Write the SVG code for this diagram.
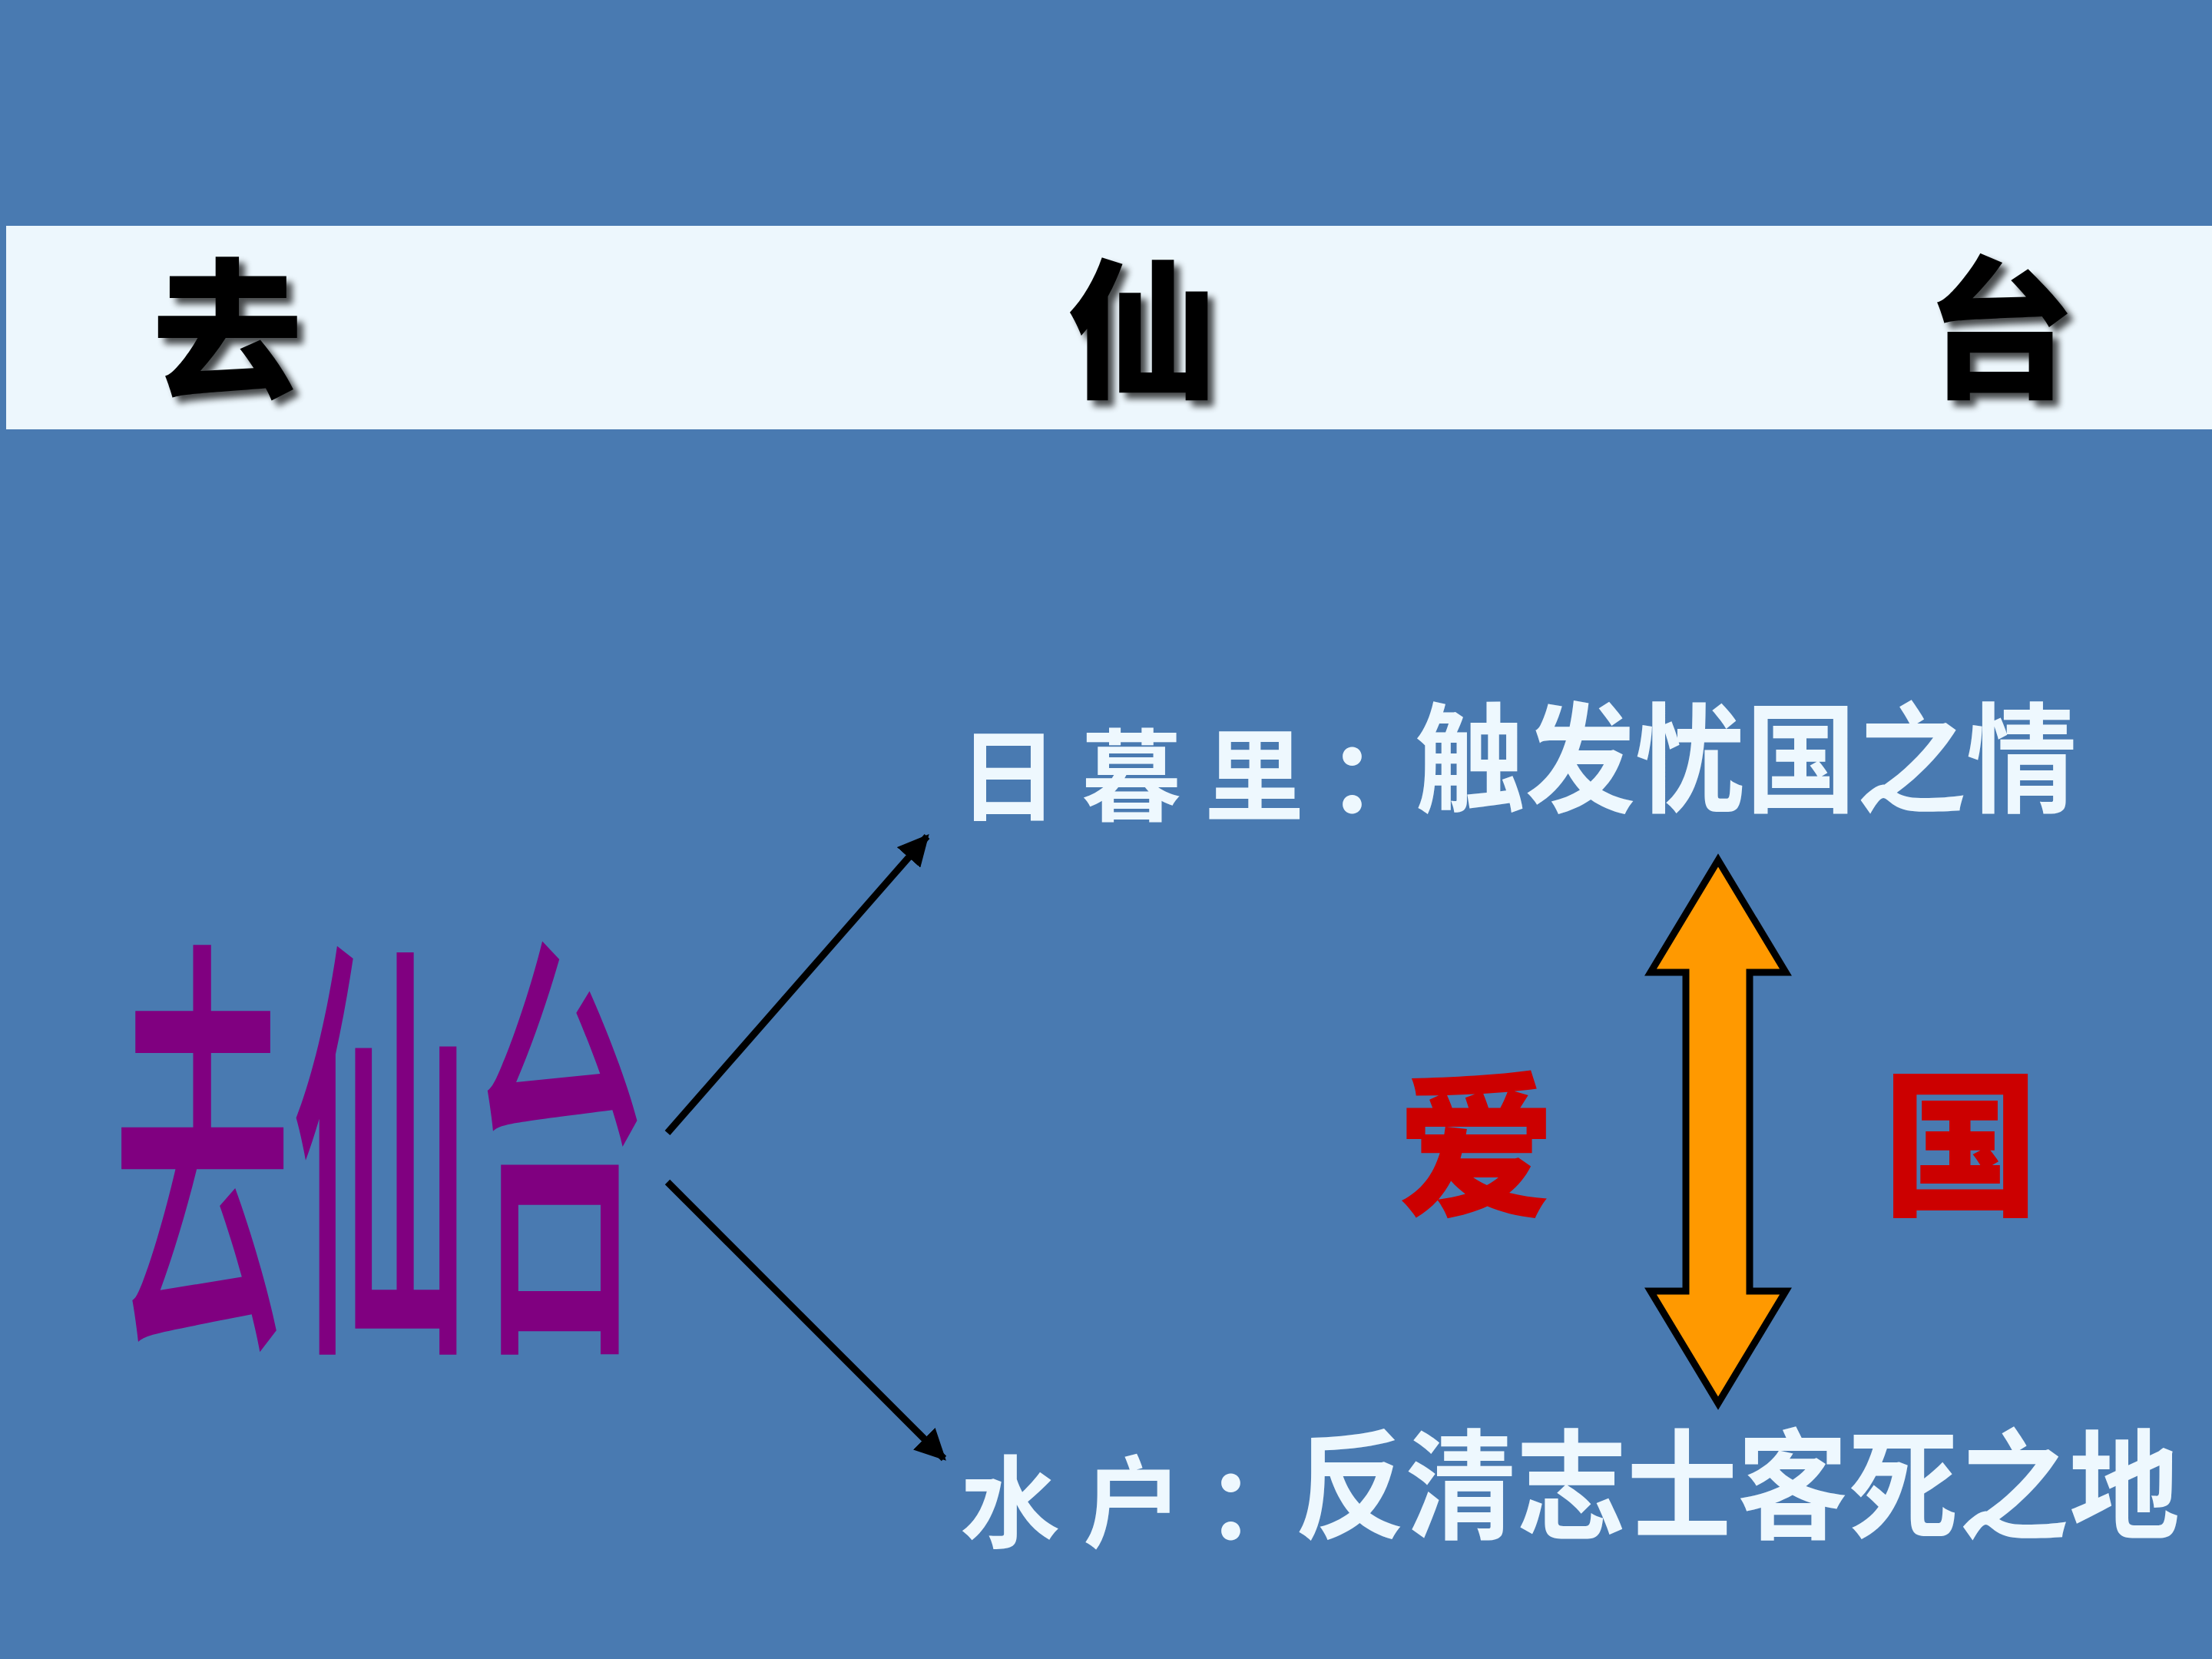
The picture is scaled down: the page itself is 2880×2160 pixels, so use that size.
<svg xmlns="http://www.w3.org/2000/svg" width="2880" height="2160" viewBox="0 0 2880 2160">
<style>
.cjk{font-family:"Noto Sans CJK SC","Noto Sans CJK JP",sans-serif}
.title{font-size:196px;font-weight:900;fill:#000}
.lbl{fill:#EEF8FE;font-weight:700}
.red{fill:#CC0000;font-weight:900;font-size:205px}
.conn{stroke:#000;stroke-width:9;fill:none}
</style>
<defs>
<filter id="sh" x="-20%" y="-20%" width="140%" height="140%">
<feGaussianBlur in="SourceAlpha" stdDeviation="4"/>
<feOffset dx="8" dy="8" result="b"/>
<feComponentTransfer><feFuncA type="linear" slope="0.7"/></feComponentTransfer>
<feMerge><feMergeNode/><feMergeNode in="SourceGraphic"/></feMerge>
</filter>
<marker id="ah" viewBox="0 0 10 10" refX="9" refY="5" markerWidth="4.5" markerHeight="4.5" orient="auto" markerUnits="strokeWidth">
<path d="M0,0 L10,5 L0,10 Z" fill="#000"/>
</marker>
</defs>
<rect width="2880" height="2160" fill="#497AB1"/>
<g id="banner">
<rect x="8" y="294" width="2872" height="265" fill="#EDF7FD"/>
<g class="cjk title" filter="url(#sh)" text-anchor="middle">
<text x="296" y="502">去</text>
<text x="1488" y="502">仙</text>
<text x="2604" y="502">台</text>
</g>
</g>
<g id="main">
<text class="cjk" transform="scale(0.405,1)" x="1224.7" y="1716" text-anchor="middle" font-size="575" font-weight="500" fill="#800080">去仙台</text>
</g>
<g id="connectors">
<line class="conn" x1="869" y1="1475" x2="1207" y2="1089" marker-end="url(#ah)"/>
<line class="conn" x1="869" y1="1539" x2="1229" y2="1899" marker-end="url(#ah)"/>
</g>
<g id="top-label">
<text class="cjk lbl" x="1248" y="1058" font-size="130" letter-spacing="30">日暮里：</text>
<text class="cjk lbl" x="1842" y="1045" font-size="155" textLength="862" lengthAdjust="spacingAndGlyphs">触发忧国之情</text>
</g>
<g id="bottom-label">
<text class="cjk lbl" x="1250" y="2004" font-size="130" letter-spacing="30">水户：</text>
<text class="cjk lbl" x="1686" y="1991" font-size="155" textLength="1152" lengthAdjust="spacingAndGlyphs">反清志士客死之地</text>
</g>
<g id="double-arrow">
<path d="M2237,1120 L2325,1266 L2278,1266 L2278,1681 L2325,1681 L2237,1827 L2149,1681 L2195,1681 L2195,1266 L2149,1266 Z" fill="#FF9900" stroke="#000" stroke-width="9" stroke-linejoin="miter"/>
</g>
<g id="ai">
<text class="cjk red" x="1922" y="1566" text-anchor="middle">爱</text>
</g>
<g id="guo">
<text class="cjk red" x="2553" y="1566" text-anchor="middle">国</text>
</g>
</svg>
